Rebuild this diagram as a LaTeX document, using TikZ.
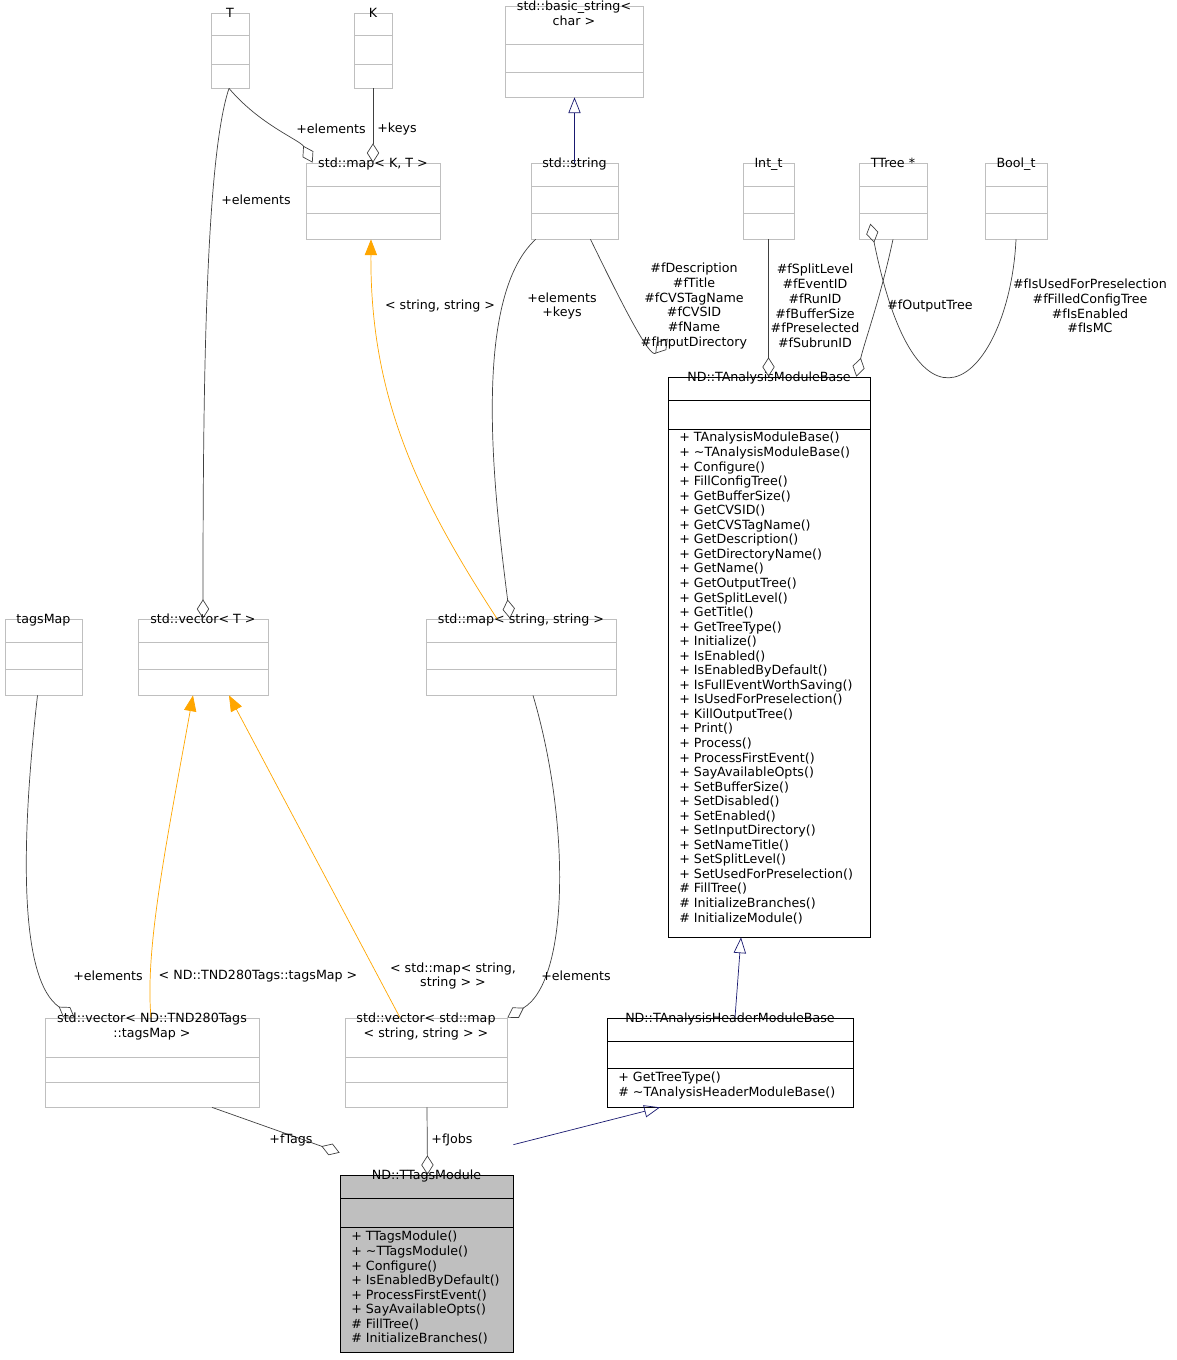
\documentclass[tikz,border=0pt]{standalone}
\usepackage{fontspec}
\setmainfont{DejaVu Sans}
\usetikzlibrary{arrows.meta,fit,calc}
\definecolor{boxgray}{rgb}{0.75,0.75,0.75}
\definecolor{edgegray}{rgb}{0.25,0.25,0.25}
\definecolor{navyblue}{rgb}{0.1,0.1,0.44}
\definecolor{tmplorange}{rgb}{1.0,0.65,0.0}

\tikzset{
    txt/.style={font=\fontsize{7.2}{8.4}\selectfont, inner sep=0pt, align=center},
    members/.style={font=\fontsize{7.2}{8.28}\selectfont, inner sep=0pt, align=left, anchor=north west},
    extbox/.style={draw=boxgray, inner sep=0pt},
    ndbox/.style={draw=black, inner sep=0pt},
    agg/.style={draw=edgegray, -{Diamond[open, length=11pt, width=7pt]}},
    inh/.style={draw=navyblue, -{Triangle[open, length=9pt, width=7pt]}},
    tmpl/.style={draw=tmplorange, -{Triangle[length=9pt, width=7pt, fill=tmplorange]}}
}

% box with two dividers: style, name, x1, y1, x2, y2, d1, d2, title
\newcommand\classbox[9]{
    \node[#1, fit={(#3,#4) (#5,#6)}] (#2) {};
    \draw[#1] (#3,#7) -- (#5,#7);
    \draw[#1] (#3,#8) -- (#5,#8);
    \node[txt, anchor=north] at ($(#2.north)+(0,-5)$) {#9};
}

\begin{document}
\begin{tikzpicture}[x=0.02cm, y=-0.02cm, thin]

    \useasboundingbox (0,0) rectangle (1177,1360);

    \classbox{extbox}{T}{211}{13}{249}{88}{35}{64}{T}
    \classbox{extbox}{K}{354}{13}{392}{88}{35}{64}{K}
    \classbox{extbox}{bstring}{505}{6}{643}{97}{44}{72}{std::basic\_string<\\char >}
    \classbox{extbox}{mapKT}{306}{163}{440}{239}{186}{213}{std::map< K, T >}
    \classbox{extbox}{string}{531}{163}{618}{239}{186}{213}{std::string}
    \classbox{extbox}{intt}{743}{163}{794}{239}{186}{213}{Int\_t}
    \classbox{extbox}{ttree}{859}{163}{927}{239}{186}{213}{TTree *}
    \classbox{extbox}{boolt}{985}{163}{1047}{239}{186}{213}{Bool\_t}
    \classbox{extbox}{tagsmap}{5}{619}{82}{695}{642}{669}{tagsMap}
    \classbox{extbox}{vecT}{138}{619}{268}{695}{642}{669}{std::vector< T >}
    \classbox{extbox}{mapSS}{426}{619}{616}{695}{642}{669}{std::map< string, string >}
    \classbox{extbox}{vecTags}{45}{1018}{259}{1107}{1057}{1082}{std::vector< ND::TND280Tags\\::tagsMap >}
    \classbox{extbox}{vecMap}{345}{1018}{507}{1107}{1057}{1082}{std::vector< std::map\\< string, string > >}
    \classbox{ndbox}{modbase}{668}{377}{870}{937}{400}{429}{ND::TAnalysisModuleBase}
    \classbox{ndbox}{hdrbase}{607}{1018}{853}{1107}{1041}{1068}{ND::TAnalysisHeaderModuleBase}
    \fill[boxgray] (340,1175) rectangle (513,1352);
    \classbox{ndbox}{tags}{340}{1175}{513}{1352}{1198}{1227}{ND::TTagsModule}

    \node[members] at (679,432) {+ TAnalysisModuleBase()\\+ \textasciitilde TAnalysisModuleBase()\\+ Configure()\\+ FillConfigTree()\\+ GetBufferSize()\\+ GetCVSID()\\+ GetCVSTagName()\\+ GetDescription()\\+ GetDirectoryName()\\+ GetName()\\+ GetOutputTree()\\+ GetSplitLevel()\\+ GetTitle()\\+ GetTreeType()\\+ Initialize()\\+ IsEnabled()\\+ IsEnabledByDefault()\\+ IsFullEventWorthSaving()\\+ IsUsedForPreselection()\\+ KillOutputTree()\\+ Print()\\+ Process()\\+ ProcessFirstEvent()\\+ SayAvailableOpts()\\+ SetBufferSize()\\+ SetDisabled()\\+ SetEnabled()\\+ SetInputDirectory()\\+ SetNameTitle()\\+ SetSplitLevel()\\+ SetUsedForPreselection()\\\# FillTree()\\\# InitializeBranches()\\\# InitializeModule()};
    \node[members] at (618,1072) {+ GetTreeType()\\\# \textasciitilde TAnalysisHeaderModuleBase()};
    \node[members] at (351,1231) {+ TTagsModule()\\+ \textasciitilde TTagsModule()\\+ Configure()\\+ IsEnabledByDefault()\\+ ProcessFirstEvent()\\+ SayAvailableOpts()\\\# FillTree()\\\# InitializeBranches()};

    % connectors
    \draw[agg] ($(T.south)+(-1,0)$) .. controls (260,125) and (300,140) .. ($(mapKT.north west)+(7,0)$);
    \draw[agg] (K.south) -- (K.south |- mapKT.north);
    \draw[inh] (string.north) -- (string.north |- bstring.south);
    \draw[agg] ($(T.south)+(-1,0)$) .. controls (205,160) and (203,400) .. ($(vecT.north)$);
    \draw[tmpl] ($(mapSS.north)+(-24,0)$) .. controls (420,500) and (370,400) .. ($(mapKT.south)+(-2,0)$);
    \draw[agg] ($(string.south west)+(5,0)$) .. controls (470,300) and (495,500) .. ($(mapSS.north)+(-11,0)$);
    \draw[agg] ($(string.south)+(16,0)$) .. controls (620,300) and (650,360) .. ($(modbase.north west)+(0,-38)$);
    \draw[agg] (intt.south) -- (intt.south |- modbase.north);
    \draw[agg] (ttree.south) .. controls (880,300) and (865,340) .. ($(modbase.north east)+(-14,0)$);
    \draw[agg] (boolt.south) .. controls (1010,370) and (920,470) .. ($(modbase.north east)+(0,-153)$);
    \draw[agg] ($(tagsmap.south)+(-6,0)$) .. controls (20,850) and (20,980) .. ($(vecTags.north west)+(30,0)$);
    \draw[tmpl] ($(vecTags.north)+(-1,0)$) .. controls (145,950) and (165,850) .. ($(vecT.south)+(-10,0)$);
    \draw[tmpl] ($(vecMap.north)+(-26,0)$) -- ($(vecT.south)+(26,0)$);
    \draw[agg] ($(mapSS.south)+(12,0)$) .. controls (570,820) and (570,980) .. (vecMap.north east);
    \draw[inh] ($(hdrbase.north)+(5,0)$) -- ($(modbase.south)+(-28,0)$);
    \draw[agg] ($(vecTags.south)+(60,0)$) -- ($(tags.north west)+(0,-22)$);
    \draw[agg] ($(vecMap.south)+(1,0)$) -- ($(tags.north)+(1,0)$);
    \draw[inh] ($(tags.north east)+(0,-30)$) -- ($(hdrbase.south)+(-70,0)$);

    % labels
    \node[txt] (lblTel) at (331,129) {+elements};
    \node[txt] (lblKeys) at (397,129) {+keys};
    \node[txt] (lblTvec) at (256,200) {+elements};
    \node[txt] (lblSS) at (440,306) {< string, string >};
    \node[txt] (lblStr) at (562,306) {+elements\\+keys};
    \node[txt] (lblDesc) at (694,306) {\#fDescription\\\#fTitle\\\#fCVSTagName\\\#fCVSID\\\#fName\\\#fInputDirectory};
    \node[txt] (lblInt) at (815,306) {\#fSplitLevel\\\#fEventID\\\#fRunID\\\#fBufferSize\\\#fPreselected\\\#fSubrunID};
    \node[txt] (lblTree) at (930,306) {\#fOutputTree};
    \node[txt] (lblBool) at (1090,306) {\#fIsUsedForPreselection\\\#fFilledConfigTree\\\#fIsEnabled\\\#fIsMC};
    \node[txt] (lblTagsEl) at (108,976) {+elements};
    \node[txt] (lblTagsT) at (258,976) {< ND::TND280Tags::tagsMap >};
    \node[txt] (lblMapT) at (453,976) {< std::map< string,\\string > >};
    \node[txt] (lblMapEl) at (576,976) {+elements};
    \node[txt] (lblFTags) at (291,1140) {+fTags};
    \node[txt] (lblFJobs) at (452,1140) {+fJobs};

\end{tikzpicture}
\end{document}
